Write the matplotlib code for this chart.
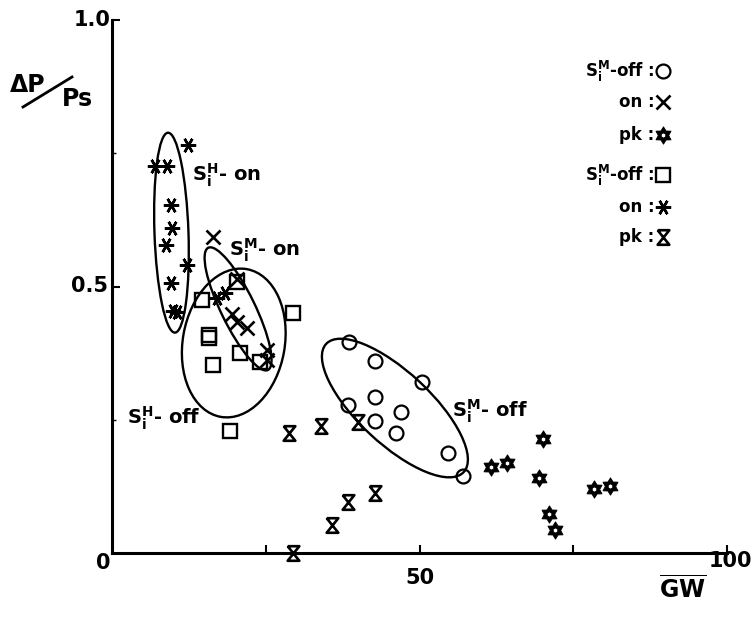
#!/usr/bin/env python3
# -*- coding: utf-8 -*-
"""
ΔP/Ps vs GW scatter with grouped ellipses (Si^M / Si^H, off / on / pk)
"""

import sys
import numpy as np
import matplotlib
matplotlib.use('Agg')
import matplotlib.pyplot as plt
from matplotlib.path import Path
from matplotlib.patches import Ellipse
from matplotlib.lines import Line2D
from matplotlib.transforms import Affine2D, blended_transform_factory

plt.rcParams['font.family'] = ['DejaVu Sans']
plt.rcParams['font.weight'] = 'bold'
plt.rcParams['mathtext.fontset'] = 'dejavusans'
plt.rcParams['mathtext.default'] = 'bf'
plt.rcParams['axes.unicode_minus'] = False

# ---- data (GW, ΔP/Ps) ----
# Si^M - off : circles
simoff_gw = [38.5, 42.7, 50.4, 42.7, 38.3, 47.0, 42.7, 46.2, 54.6, 57.1]
simoff_dp = [0.395, 0.361, 0.321, 0.293, 0.278, 0.265, 0.248, 0.226, 0.187, 0.144]
# Si^M - on : crosses
simon_gw = [16.4, 20.3, 19.5, 20.3, 22.0, 25.2, 25.2]
simon_dp = [0.593, 0.514, 0.448, 0.433, 0.422, 0.381, 0.362]
# Si^M - pk : six point stars
simpk_gw = [70.1, 61.6, 64.2, 69.5, 78.3, 80.9, 71.1, 72.0]
simpk_dp = [0.213, 0.161, 0.169, 0.140, 0.121, 0.126, 0.073, 0.043]
# Si^H - off : squares
sihoff_gw = [20.3, 14.6, 29.5, 15.7, 15.7, 20.8, 16.5, 24.1, 19.2]
sihoff_dp = [0.509, 0.475, 0.450, 0.409, 0.403, 0.375, 0.353, 0.359, 0.228]
# Si^H - on : asterisks
sihon_gw = [12.4, 7.0, 8.9, 9.6, 9.7, 8.8, 12.2, 9.6, 9.9, 10.6, 17.1, 18.4]
sihon_dp = [0.765, 0.726, 0.726, 0.653, 0.610, 0.578, 0.540, 0.507, 0.454, 0.452, 0.478, 0.488]
# Si^H - pk : hourglasses
sihpk_gw = [28.7, 34.0, 40.0, 42.7, 38.4, 35.7, 29.5]
sihpk_dp = [0.225, 0.238, 0.246, 0.112, 0.096, 0.053, 0.0]

# group ellipses: centre (GW, ΔP/Ps), axes in pixels, angle in degrees
ell_gw = [9.67, 20.5, 19.8, 46.0]
ell_dp = [0.601, 0.458, 0.394, 0.272]
ell_w = [200, 136, 150, 188]
ell_h = [34, 34, 102, 72]
ell_ang = [92, 116, 80, 137]

# group labels (left edge, middle)
lab_text = [r'S$_\mathregular{i}^\mathregular{H}$- on', r'S$_\mathregular{i}^\mathregular{M}$- on',
            r'S$_\mathregular{i}^\mathregular{H}$- off', r'S$_\mathregular{i}^\mathregular{M}$- off']
lab_gw = [13.0, 19.0, 2.4, 55.3]
lab_dp = [0.709, 0.568, 0.253, 0.265]

legend_text = [r'S$_\mathregular{i}^\mathregular{M}$-off :', 'on :', 'pk :',
               r'S$_\mathregular{i}^\mathregular{M}$-off :', 'on :', 'pk :']


def star_marker():
    """黑色六角星，中间留白"""
    verts, codes = [], []
    for k in range(12):
        a = np.deg2rad(90 + 30 * k)
        r = 1.0 if k % 2 == 0 else 0.6
        verts.append((r * np.cos(a), r * np.sin(a)))
        codes.append(Path.MOVETO if k == 0 else Path.LINETO)
    verts.append(verts[0])
    codes.append(Path.CLOSEPOLY)
    hole = []
    for k in range(6):
        a = np.deg2rad(-30 - 60 * k)
        hole.append((0.3 * np.cos(a), 0.3 * np.sin(a)))
    for i, p in enumerate(hole):
        verts.append(p)
        codes.append(Path.MOVETO if i == 0 else Path.LINETO)
    verts.append(hole[0])
    codes.append(Path.CLOSEPOLY)
    return Path(verts, codes)


def hourglass_marker():
    verts = [(-0.8, 1), (0.8, 1), (-0.8, -1), (0.8, -1), (-0.8, 1)]
    codes = [Path.MOVETO] + [Path.LINETO] * 4
    return Path(verts, codes)


STAR = star_marker()
HOURGLASS = hourglass_marker()

STYLES = {
    'simoff': dict(marker='o', markersize=10, mfc='none', mec='black', mew=1.6),
    'simon': dict(marker='x', markersize=10.5, mfc='none', mec='black', mew=1.9),
    'simpk': dict(marker=STAR, markersize=12.5, mfc='black', mec='black', mew=0.6),
    'sihoff': dict(marker='s', markersize=9.5, mfc='none', mec='black', mew=1.7),
    'sihon': dict(marker=(6, 2, 90), markersize=11, mfc='none', mec='black', mew=1.8),
    'sihpk': dict(marker=HOURGLASS, markersize=10.5, mfc='none', mec='black', mew=1.9),
}


def plot():
    W, H = 752, 618
    fig = plt.figure(figsize=(W / 100, H / 100), dpi=100)
    # axes box in pixels: x 112..727, y 20..553 (from top)
    ax = fig.add_axes([112 / W, 65 / H, 615 / W, 533 / H])
    ax.set_xlim(0, 100)
    ax.set_ylim(0, 1.0)
    x_px = 615 / 100.0
    y_px = 533 / 1.0

    for side in ['top', 'right']:
        ax.spines[side].set_visible(False)
    for side in ['left', 'bottom']:
        ax.spines[side].set_linewidth(2.2)

    ax.set_xticks([25, 50, 75, 100])
    ax.set_yticks([0.5, 1.0])
    ax.set_yticks([0.25, 0.75], minor=True)
    ax.tick_params(which='major', direction='in', length=6, width=1.5, labelbottom=False, labelleft=False)
    ax.tick_params(which='minor', direction='in', length=3, width=1.0)

    # tick labels placed by hand
    tb = blended_transform_factory(ax.transData, ax.transAxes)
    ax.text(-1.5, -0.019, '0', transform=tb, ha='center', va='center', fontsize=15)
    ax.text(50, -0.047, '50', transform=tb, ha='center', va='center', fontsize=15)
    ax.text(100.6, -0.015, '100', transform=tb, ha='center', va='center', fontsize=15)
    ax.text(-0.006, 0.5, '0.5', transform=ax.get_yaxis_transform(), ha='right', va='center', fontsize=15)
    ax.text(-0.003, 1.0, '1.0', transform=ax.get_yaxis_transform(), ha='right', va='center', fontsize=15)

    # data
    ax.plot(simoff_gw, simoff_dp, ls='none', clip_on=False, **STYLES['simoff'])
    ax.plot(simon_gw, simon_dp, ls='none', clip_on=False, **STYLES['simon'])
    ax.plot(simpk_gw, simpk_dp, ls='none', clip_on=False, **STYLES['simpk'])
    ax.plot(sihoff_gw, sihoff_dp, ls='none', clip_on=False, **STYLES['sihoff'])
    ax.plot(sihon_gw, sihon_dp, ls='none', clip_on=False, **STYLES['sihon'])
    ax.plot(sihpk_gw, sihpk_dp, ls='none', clip_on=False, **STYLES['sihpk'])

    # ellipses drawn in pixel-equal units
    px_tr = Affine2D().scale(1 / x_px, 1 / y_px) + ax.transData
    for cx, cy, w, h, a in zip(ell_gw, ell_dp, ell_w, ell_h, ell_ang):
        e = Ellipse((cx * x_px, cy * y_px), w, h, angle=a, transform=px_tr,
                    fill=False, ec='black', lw=1.7)
        ax.add_patch(e)

    for t, gx, gy in zip(lab_text, lab_gw, lab_dp):
        ax.text(gx, gy, t, ha='left', va='center', fontsize=14)

    # legend at upper right
    keys = ['simoff', 'simon', 'simpk', 'sihoff', 'sihon', 'sihpk']
    rows_y = [0.904, 0.846, 0.784, 0.709, 0.649, 0.593]
    for key, txt, ry in zip(keys, legend_text, rows_y):
        ax.text(0.882, ry, txt, transform=ax.transAxes, ha='right', va='center', fontsize=12)
        ax.plot([0.896], [ry], transform=ax.transAxes, ls='none', clip_on=False, **STYLES[key])

    # y label: ΔP / Ps
    fig.text(10 / W, 1 - 85 / H, 'ΔP', ha='left', va='center', fontsize=17)
    fig.add_artist(Line2D([23 / W, 72 / W], [1 - 107 / H, 1 - 77 / H], transform=fig.transFigure,
                          color='black', lw=2.0))
    fig.text(62 / W, 1 - 99 / H, 'Ps', ha='left', va='center', fontsize=17)

    # x label
    fig.text(683 / W, 1 - 590 / H, r'$\overline{\mathregular{GW}}$', ha='center', va='center', fontsize=17)

    fig.savefig('out.png', dpi=100)
    return True


def main():
    ok = plot()
    return 0 if ok else 1


if __name__ == "__main__":
    sys.exit(main())
